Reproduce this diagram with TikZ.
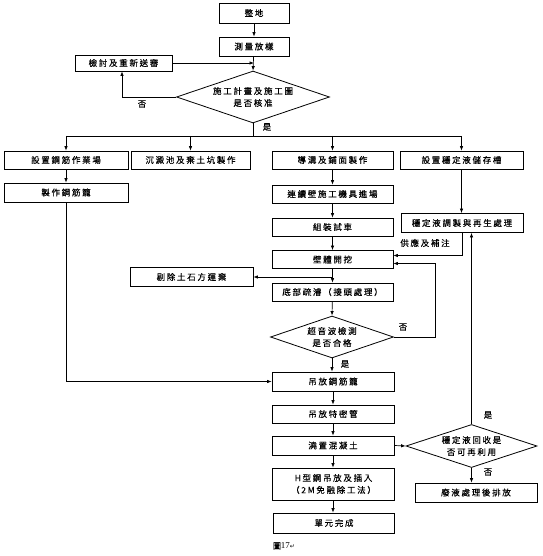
\documentclass[tikz,border=0pt]{standalone}
\usepackage{fontspec}
\setmainfont{Liberation Serif}
\newfontfamily\cjk[LetterSpace=20,FakeBold=0.25]{Noto Sans CJK TC}
\newfontfamily\symf{DejaVu Sans}
\usetikzlibrary{shapes.geometric,arrows.meta,calc}
\begin{document}
\begin{tikzpicture}[x=1pt,y=-1pt,
  txt/.style={font=\cjk\fontsize{8.5}{12}\selectfont},
  box/.style={draw,line width=0.8pt,inner sep=0pt,align=center,txt},
  dia/.style={draw,diamond,line width=0.8pt,inner sep=0pt},
  arr/.style={line width=0.7pt,-{Latex[length=4.5pt,width=3.5pt]}},
  ln/.style={line width=0.7pt},
  lbl/.style={inner sep=0pt,txt}]
\useasboundingbox (0,0) rectangle (542,556);
% top column
\node[box,minimum width=70pt,minimum height=20pt] (zd) at (254,13) {整地};
\node[box,minimum width=70pt,minimum height=19pt] (cl) at (254,46.5) {測量放樣};
\node[box,minimum width=97pt,minimum height=16pt] (js) at (123.5,63) {檢討及重新送審};
\node[dia,minimum width=153pt,minimum height=52pt] (d1) at (253,97) {};
\node[lbl,align=center] (d1t) at (d1) {施工計畫及施工圖\\是否核准};
% first row
\node[box,minimum width=124pt,minimum height=18pt] (a1) at (66,160) {設置鋼筋作業場};
\node[box,minimum width=119pt,minimum height=18pt] (a2) at (190.5,160) {沉澱池及棄土坑製作};
\node[box,minimum width=121pt,minimum height=18pt] (a3) at (332.5,160) {導溝及鋪面製作};
\node[box,minimum width=123pt,minimum height=18pt] (a4) at (461.5,160) {設置穩定液儲存槽};
\coordinate (jn) at (253,136);
% left
\node[box,minimum width=124pt,minimum height=19pt] (b1) at (66,192.5) {製作鋼筋籠};
% main column
\node[box,minimum width=121pt,minimum height=18pt] (b3) at (332.5,194) {連續壁施工機具進場};
\node[box,minimum width=121pt,minimum height=18pt] (c3) at (332.5,227) {組裝試車};
\node[box,minimum width=122pt,minimum height=19pt] (c4) at (462,223) {穩定液調製與再生處理};
\node[box,minimum width=121pt,minimum height=18pt] (d3) at (332.5,259.5) {壁體開挖};
\node[box,minimum width=123pt,minimum height=19pt] (r1) at (191.5,277) {剔除土石方運棄};
\node[box,minimum width=121pt,minimum height=18pt] (e3) at (332.5,292) {底部疏濬（接頭處理）};
\node[dia,minimum width=123pt,minimum height=42pt] (d2) at (332,337) {};
\node[lbl,align=center] (d2t) at (d2) {超音波檢測\\是否合格};
\node[box,minimum width=122pt,minimum height=19pt] (f3) at (333,381.5) {吊放鋼筋籠};
\node[box,minimum width=122pt,minimum height=18pt] (g3) at (333,414) {吊放特密管};
\node[box,minimum width=122pt,minimum height=19pt] (h3) at (333,445.5) {澆置混凝土};
\node[box,minimum width=122pt,minimum height=32pt] (i3) at (333.5,484) {H型鋼吊放及插入\\（2M免融除工法）};
\node[box,minimum width=121pt,minimum height=20pt] (j3) at (334,523) {單元完成};
\node[dia,minimum width=131pt,minimum height=43pt] (d4) at (471.5,446) {};
\node[lbl,align=center] (d4t) at (d4) {穩定液回收是\\否可再利用};
\node[box,minimum width=122pt,minimum height=19pt] (w4) at (476,492.5) {廢液處理後排放};
% labels
\node[lbl] (l1) at (142,104) {否};
\node[lbl] (l2) at (267,127) {是};
\node[lbl] (l3) at (425,243) {供應及補注};
\node[lbl] (l4) at (403,327) {否};
\node[lbl] (l5) at (345,364) {是};
\node[lbl] (l6) at (488,415) {是};
\node[lbl] (l7) at (488,472) {否};
\node[inner sep=0pt,font=\fontsize{9}{11}\selectfont] (cap) at (284,546) {{\cjk\fontsize{8}{10}\selectfont 圖}17{\symf\fontsize{6}{8}\selectfont ↵}};
% connectors top
\draw[arr] (zd) -- (cl);
\draw[arr] (cl) -- (d1.north);
\draw[arr] (js.east) -- (js.east -| cl.south);
\draw[arr] (d1.west) -| ([xshift=-1.5pt]js.south);
\draw[ln] (d1.south) -- (jn);
\draw[ln] (a1.north |- jn) -- (a4.north |- jn);
\draw[arr] (a1.north |- jn) -- (a1.north);
\draw[arr] (a2.north |- jn) -- (a2.north);
\draw[arr] (a3.north |- jn) -- (a3.north);
\draw[arr] (a4.north |- jn) -- (a4.north);
% left
\draw[arr] (a1) -- (b1);
\draw[arr] (b1.south) |- (f3.west);
% main
\draw[arr] (a3) -- (b3);
\draw[arr] (b3) -- (c3);
\draw[arr] (c3) -- (d3);
\draw[arr] (a4) -- (a4 |- c4.north);
\draw[arr] (c4.south) |- ([yshift=4pt]d3.east);
\coordinate (lp) at (435,337);
\draw[arr] (d2.east) -- (lp) |- ([yshift=-4pt]d3.east);
\draw[arr] (d3) -- (e3);
\draw[arr] (d3.south |- r1.east) -- (r1.east);
\draw[arr] (e3) -- (d2.north);
\draw[arr] (d2.south) -- (f3.north -| d2.south);
\draw[arr] (f3) -- (g3);
\draw[arr] (g3) -- (h3);
\draw[arr] (h3) -- (h3 |- i3.north);
\draw[arr] (i3.south -| h3) -- (j3.north -| h3);
\draw[arr] (h3.east) -- (d4.west);
\draw[arr] (d4.north) -- (d4.north |- c4.south);
\draw[arr] (d4.south) -- (d4.south |- w4.north);
\end{tikzpicture}
\end{document}
